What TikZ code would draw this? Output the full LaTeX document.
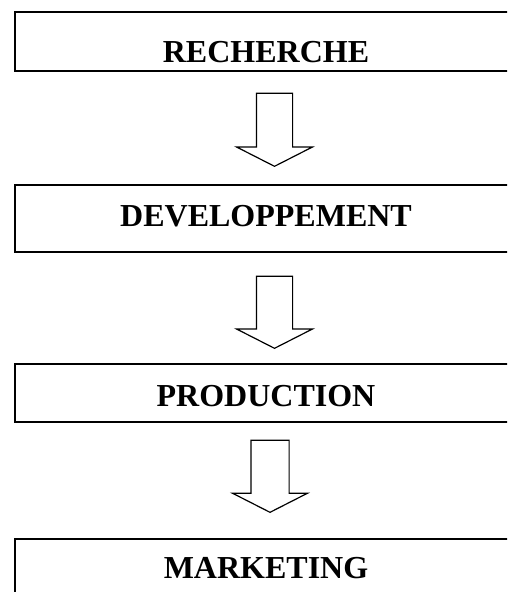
\documentclass[tikz,border=0pt]{standalone}
\usepackage{fontspec}
\setmainfont{Liberation Serif}
\usepackage{tikz}
\usetikzlibrary{shapes.arrows}

\begin{document}
\begin{tikzpicture}[x=0.5pt,y=0.5pt]
  \tikzstyle{etape}=[draw,line width=1pt,anchor=north west,minimum width=251pt,inner sep=0pt,font=\fontsize{16}{19}\selectfont\bfseries]
  \tikzstyle{fleche}=[draw,line width=0.6pt,single arrow,rotate=-90,anchor=tip,inner xsep=0pt,single arrow tip angle=126]

  \useasboundingbox (0,0) rectangle (507,-592);
  \clip (0,0) rectangle (507,-592);

  % les etapes
  \node[etape,minimum height=29.5pt,text height=21.5pt,text depth=0pt] (rech) at (14,-11) {RECHERCHE};
  \node[etape,minimum height=33.5pt,text height=11pt,text depth=2.5pt] (dev) at (14,-184) {DEVELOPPEMENT};
  \node[etape,minimum height=29pt,text height=13pt,text depth=0pt] (prod) at (14,-363) {PRODUCTION};
  \node[etape,minimum height=31pt,text height=12pt,text depth=4pt] (mark) at (14,-538) {MARKETING};

  % les fleches
  \node[fleche,minimum height=36.5pt,inner ysep=8.75pt,single arrow head extend=10pt] (f1) at (274.5,-167) {};
  \node[fleche,minimum height=36pt,inner ysep=8.75pt,single arrow head extend=10pt] (f2) at (274.5,-349) {};
  \node[fleche,minimum height=36pt,inner ysep=9.25pt,single arrow head extend=9.25pt] (f3) at (270,-513) {};
\end{tikzpicture}
\end{document}
